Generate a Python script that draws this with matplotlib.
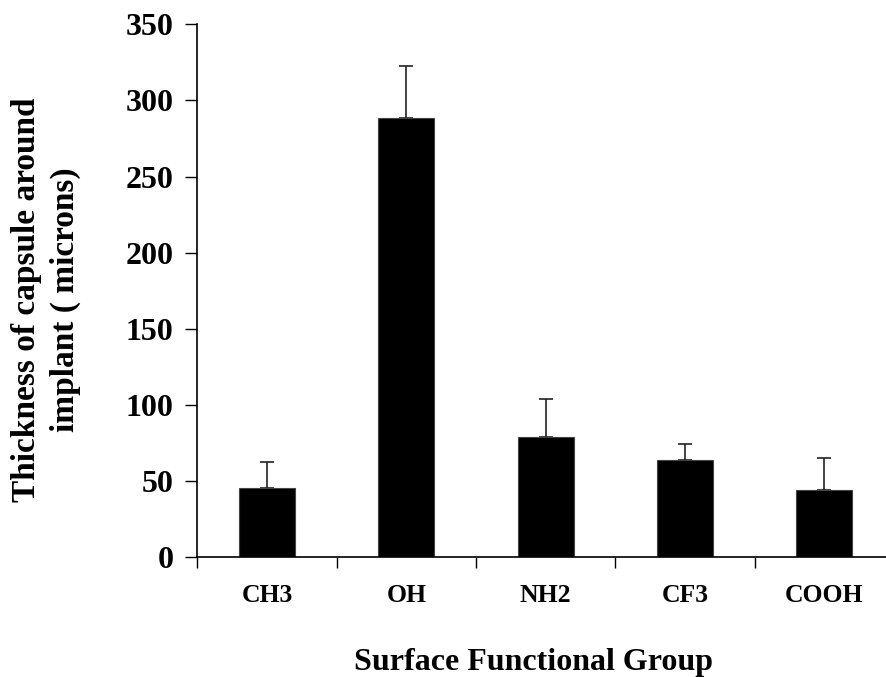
import matplotlib.pyplot as plt

groups = ["CH3", "OH", "NH2", "CF3", "COOH"]
thickness = [45.7, 288.4, 79.2, 63.9, 44.0]
err_upper = [17.1, 34.2, 25.0, 10.7, 21.4]

plt.rcParams['font.family'] = ['Liberation Serif', 'DejaVu Serif']
plt.rcParams['font.weight'] = 'bold'

W, H = 886, 677
fig = plt.figure(figsize=(W / 100, H / 100), dpi=100)
# axis runs a little past the right edge, as in the original
ax = fig.add_axes([197.3 / W, (H - 557.3) / H, (894 - 197.3) / W, (557.3 - 24.3) / H])

x = list(range(len(groups)))
ax.bar(x, thickness, width=0.4, color='black', edgecolor='#444444', linewidth=0.8, zorder=2)
ax.errorbar(x, thickness, yerr=[[0] * len(groups), err_upper], fmt='none',
            ecolor='#222222', elinewidth=1.2, capsize=4.7, capthick=1.2, zorder=1)

ax.set_xlim(-0.5, 4.5)
ax.set_ylim(0, 350)
ax.set_yticks(range(0, 351, 50))
ax.set_xticks([i - 0.5 for i in range(len(groups) + 1)])
ax.set_xticklabels([])
ax.set_xticks(x, minor=True)
ax.set_xticklabels(groups, minor=True)
ax.tick_params(axis='x', which='minor', length=0, pad=19, labelsize=18.5)
ax.tick_params(axis='x', which='major', length=8, direction='out', width=1)
ax.tick_params(axis='y', length=9, width=1, labelsize=23, pad=8)

for s in ['top', 'right']:
    ax.spines[s].set_visible(False)
ax.spines['left'].set_linewidth(1.2)
ax.spines['bottom'].set_linewidth(1.2)

fig.text(533.7 / W, 7 / H, "Surface Functional Group", fontsize=23,
         fontweight='bold', ha='center', va='baseline')
fig.text(46 / W, (H - 300) / H, "Thickness of capsule around\nimplant ( microns)",
         fontsize=24, fontweight='bold', rotation=90, ha='center', va='center',
         multialignment='center', linespacing=1.3)

fig.savefig("out.png", dpi=100)
